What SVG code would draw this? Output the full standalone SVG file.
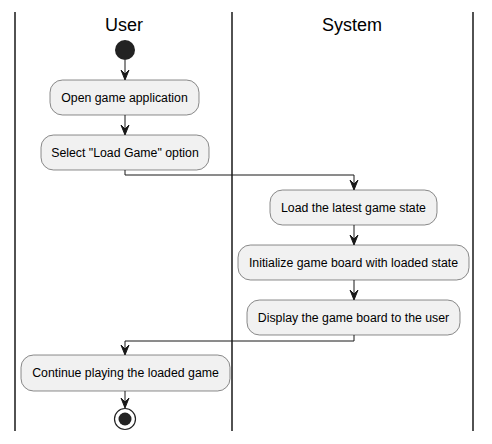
<svg xmlns="http://www.w3.org/2000/svg" width="492" height="444" viewBox="0 0 492 444">
<style>
.lane{stroke:#181818;stroke-width:1.5;fill:none}
.title{font-family:"Liberation Sans",Arial,sans-serif;font-size:18px;fill:#000;text-anchor:middle}
.box{fill:#F1F1F1;stroke:#181818;stroke-width:0.5}
.lbl{font-family:"Liberation Sans",Arial,sans-serif;font-size:12.3px;fill:#000;text-anchor:middle}
.edge{stroke:#181818;stroke-width:1;fill:none}
.ah{fill:#181818;stroke:#181818;stroke-width:1}
</style>
<rect width="492" height="444" fill="#fff"/>
<g id="lanes">
<line class="lane" x1="15" y1="12" x2="15" y2="431"/>
<line class="lane" x1="232" y1="12" x2="232" y2="431"/>
<line class="lane" x1="473" y1="12" x2="473" y2="431"/>
<text class="title" x="124" y="31">User</text>
<text class="title" x="352" y="31">System</text>
</g>
<g id="connectors">
<line class="edge" x1="125" y1="60" x2="125" y2="79"/>
<polygon class="ah" points="121,70 125,80 129,70 125,74"/>
<line class="edge" x1="125" y1="115" x2="125" y2="134"/>
<polygon class="ah" points="121,125 125,135 129,125 125,129"/>
<polyline class="edge" points="125,170 125,175 354,175 354,189"/>
<polygon class="ah" points="350,180 354,190 358,180 354,184"/>
<line class="edge" x1="354" y1="225" x2="354" y2="244"/>
<polygon class="ah" points="350,235 354,245 358,235 354,239"/>
<line class="edge" x1="354" y1="280" x2="354" y2="299"/>
<polygon class="ah" points="350,290 354,300 358,290 354,294"/>
<polyline class="edge" points="354,335 354,341 125,341 125,354"/>
<polygon class="ah" points="121,345 125,355 129,345 125,349"/>
<line class="edge" x1="125" y1="391" x2="125" y2="407"/>
<polygon class="ah" points="121,398 125,408 129,398 125,402"/>
</g>
<g id="start"><circle cx="125" cy="50" r="10" fill="#222"/></g>
<g id="n1"><rect class="box" x="50" y="80" width="149" height="35" rx="12.5"/><text class="lbl" x="124.5" y="102">Open game application</text></g>
<g id="n2"><rect class="box" x="41" y="135" width="168" height="35" rx="12.5"/><text class="lbl" x="125" y="157">Select "Load Game" option</text></g>
<g id="n3"><rect class="box" x="270" y="190" width="167" height="35" rx="12.5"/><text class="lbl" x="353.5" y="212">Load the latest game state</text></g>
<g id="n4"><rect class="box" x="238" y="245" width="231" height="35" rx="12.5"/><text class="lbl" x="353.5" y="267">Initialize game board with loaded state</text></g>
<g id="n5"><rect class="box" x="247" y="300" width="213" height="35" rx="12.5"/><text class="lbl" x="353.5" y="322">Display the game board to the user</text></g>
<g id="n6"><rect class="box" x="21" y="355" width="209" height="36" rx="12.5"/><text class="lbl" x="125.5" y="377">Continue playing the loaded game</text></g>
<g id="end"><circle cx="125" cy="419" r="10.5" fill="none" stroke="#222" stroke-width="1.2"/><circle cx="125" cy="419" r="6.5" fill="#222"/></g>
</svg>
